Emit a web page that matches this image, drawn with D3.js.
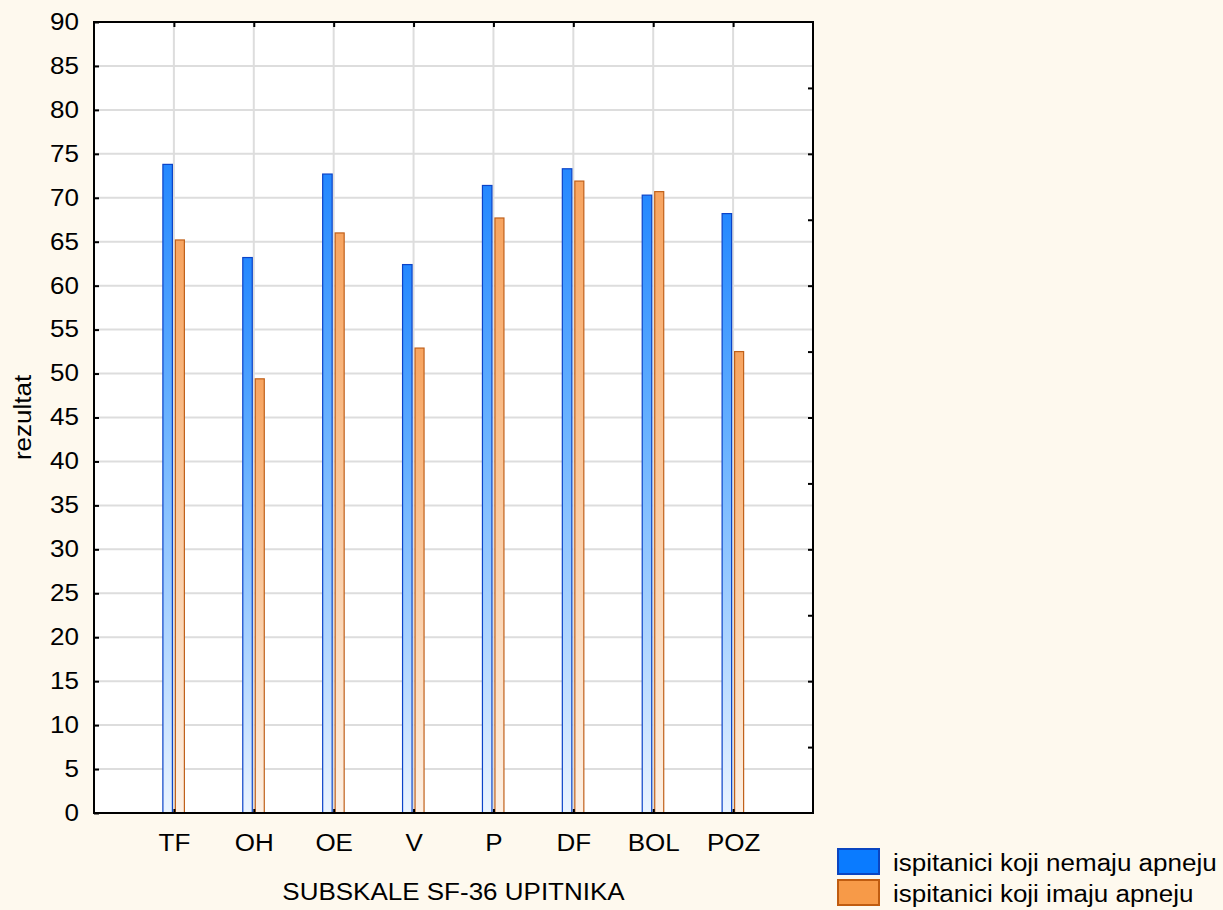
<!DOCTYPE html>
<html>
<head>
<meta charset="utf-8">
<script src="https://cdn.jsdelivr.net/npm/d3@7"></script>
<style>
  html, body { margin: 0; padding: 0; width: 1223px; height: 910px; overflow: hidden; background: #fef9ee; }
  svg { display: block; font-family: "Liberation Sans", Arial, sans-serif; }
</style>
</head>
<body>
<svg id="main"></svg>
<script>
const width = 1223;
const height = 910;
const position = { left: 94, top: 22, right: 410, bottom: 97 };
const innerWidth = width - position.left - position.right;
const innerHeight = height - position.top - position.bottom;

// data
const categories = ['TF', 'OH', 'OE', 'V', 'P', 'DF', 'BOL', 'POZ'];
const noApnea = [73.8, 63.2, 72.7, 62.4, 71.4, 73.3, 70.3, 68.2];
const apnea = [65.2, 49.4, 66.0, 52.9, 67.7, 71.9, 70.7, 52.5];
const seriesNames = ['ispitanici koji nemaju apneju', 'ispitanici koji imaju apneju'];
const yTicks = d3.range(0, 91, 5);
const rightTicks = d3.range(7.5, 90, 7.5);

const fontSize = 23;
const stretch = 1.13; // the original font is a bit wider than Arial

const svg = d3.select('#main')
    .attr('width', width)
    .attr('height', height)
    .attr('viewBox', `0 0 ${width} ${height}`);
svg.append('rect').attr('width', width).attr('height', height).attr('fill', '#fef9ee');

// gradients for the bars
const defs = svg.append('defs');
const gradBlue = defs.append('linearGradient').attr('id', 'gBlue').attr('x1', 0).attr('y1', 0).attr('x2', 0).attr('y2', 1);
gradBlue.append('stop').attr('offset', 0).attr('stop-color', '#2488ff');
gradBlue.append('stop').attr('offset', 0.35).attr('stop-color', '#62aeff');
gradBlue.append('stop').attr('offset', 1).attr('stop-color', '#eaf4ff');
const gradOrange = defs.append('linearGradient').attr('id', 'gOrange').attr('x1', 0).attr('y1', 0).attr('x2', 0).attr('y2', 1);
gradOrange.append('stop').attr('offset', 0).attr('stop-color', '#f7a460');
gradOrange.append('stop').attr('offset', 0.35).attr('stop-color', '#f9bf8d');
gradOrange.append('stop').attr('offset', 1).attr('stop-color', '#fdf0e4');

const mainGroup = svg.append('g').attr('transform', `translate(${position.left}, ${position.top})`);

const xScale = d3.scalePoint().domain(categories).range([0, innerWidth]).padding(1);
const yScale = d3.scaleLinear().domain([0, 90]).range([innerHeight, 0]);

// plot area
mainGroup.append('rect').attr('width', innerWidth).attr('height', innerHeight).attr('fill', '#ffffff');

// grid
mainGroup.append('g')
    .selectAll('line')
    .data(yTicks.filter(d => d > 0 && d < 90))
    .join('line')
    .attr('x1', 0).attr('x2', innerWidth)
    .attr('y1', d => yScale(d)).attr('y2', d => yScale(d))
    .attr('stroke', '#dddddd').attr('stroke-width', 2);
mainGroup.append('g')
    .selectAll('line')
    .data(categories)
    .join('line')
    .attr('x1', d => xScale(d)).attr('x2', d => xScale(d))
    .attr('y1', 0).attr('y2', innerHeight)
    .attr('stroke', '#dddddd').attr('stroke-width', 2);

// bars
const rows = categories.map((c, i) => ({ cat: c, a: noApnea[i], b: apnea[i] }));
mainGroup.append('g')
    .selectAll('rect')
    .data(rows)
    .join('rect')
    .attr('x', d => xScale(d.cat) - 11)
    .attr('y', d => yScale(d.a))
    .attr('width', 9.5)
    .attr('height', d => innerHeight - yScale(d.a))
    .attr('fill', 'url(#gBlue)')
    .attr('stroke', '#0b43c8').attr('stroke-width', 1.2);
mainGroup.append('g')
    .selectAll('rect')
    .data(rows)
    .join('rect')
    .attr('x', d => xScale(d.cat) + 1.5)
    .attr('y', d => yScale(d.b))
    .attr('width', 9)
    .attr('height', d => innerHeight - yScale(d.b))
    .attr('fill', 'url(#gOrange)')
    .attr('stroke', '#c0601a').attr('stroke-width', 1.2);

// widen text a little without transforms
function widen(sel) {
    sel.each(function () {
        const len = this.getComputedTextLength();
        d3.select(this).attr('textLength', len * stretch).attr('lengthAdjust', 'spacingAndGlyphs');
    });
}

function styleAxis(g) {
    g.selectAll('text').filter(function () { return !this.textContent; }).remove();
    g.selectAll('text')
        .attr('font-size', fontSize)
        .attr('fill', '#000')
        .attr('font-family', '"Liberation Sans", Arial, sans-serif')
        .call(widen);
    g.selectAll('.tick line').attr('stroke', '#000').attr('stroke-width', 2);
    g.select('.domain').remove();
}

// axes
mainGroup.append('g')
    .call(d3.axisLeft(yScale).tickValues(yTicks).tickSize(-5).tickPadding(15))
    .call(styleAxis);
mainGroup.append('g')
    .attr('transform', `translate(${innerWidth},0)`)
    .call(d3.axisRight(yScale).tickValues(rightTicks).tickSize(-5).tickFormat(''))
    .call(styleAxis);
mainGroup.append('g')
    .call(d3.axisTop(xScale).tickSize(-5).tickFormat(''))
    .call(styleAxis);
mainGroup.append('g')
    .attr('transform', `translate(0,${innerHeight})`)
    .call(d3.axisBottom(xScale).tickSize(-4).tickPadding(22))
    .call(styleAxis);

// frame
mainGroup.append('rect')
    .attr('width', innerWidth).attr('height', innerHeight)
    .attr('fill', 'none').attr('stroke', '#000').attr('stroke-width', 2);

// titles
svg.append('text')
    .attr('x', position.left + innerWidth / 2)
    .attr('y', 900)
    .attr('text-anchor', 'middle')
    .attr('font-size', fontSize)
    .text('SUBSKALE SF-36 UPITNIKA')
    .call(widen);
svg.append('text')
    .attr('transform', `translate(31,${position.top + innerHeight / 2}) rotate(-90)`)
    .attr('text-anchor', 'middle')
    .attr('font-size', fontSize)
    .text('rezultat')
    .call(widen);

// legend
const legendColors = [
    { fill: '#0a7bff', stroke: '#0b45c0' },
    { fill: '#f79a48', stroke: '#c05c10' }
];
const legend = svg.append('g').attr('transform', 'translate(838, 849)');
const item = legend.selectAll('g')
    .data(seriesNames)
    .join('g')
    .attr('transform', (d, i) => `translate(0, ${i * 31})`);
item.append('rect')
    .attr('width', 41).attr('height', 25)
    .attr('fill', (d, i) => legendColors[i].fill)
    .attr('stroke', (d, i) => legendColors[i].stroke)
    .attr('stroke-width', 2);
item.append('text')
    .attr('x', 55)
    .attr('y', 22)
    .attr('font-size', fontSize)
    .attr('fill', '#000')
    .text(d => d)
    .call(widen);
</script>
</body>
</html>
